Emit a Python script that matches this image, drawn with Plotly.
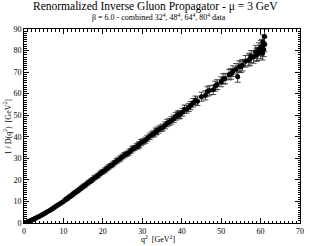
import plotly.graph_objects as go

q2 = [0.0, 0.1, 0.2, 0.3, 0.4, 0.5, 0.7, 0.9, 1.1, 1.3, 1.5, 1.8, 2.1, 2.4, 2.7, 3.0, 3.4, 3.8, 4.2, 4.6,
      5.0, 5.5, 6.0, 6.5, 7.0, 7.5, 8.0, 8.6, 9.2, 9.8, 10.4, 11.0, 11.7, 12.4, 13.1, 13.8, 14.6, 15.4, 16.2, 17.0,
      17.9, 18.8, 19.7, 20.6, 21.5, 22.5, 23.5, 24.5, 25.5, 26.5, 27.5, 28.6, 29.7, 30.8, 31.9, 33.0, 34.1, 35.2,
      36.3, 37.4, 38.5, 39.6, 40.7, 41.8, 42.9, 44.0, 45.0, 46.0, 47.0, 48.0, 49.0, 50.0, 51.0, 52.0, 53.0, 53.8,
      54.2, 54.6, 55.4, 56.2, 57.0, 57.6, 58.2, 58.8, 59.2, 59.6, 60.0, 60.3, 60.6, 60.8, 61.0,
      46.5, 48.5, 50.5, 52.5, 55.0, 57.3, 59.0, 60.1, 60.5, 61.0, 43.5, 39.0, 33.5, 29.0, 24.0,
      10.7, 11.35, 12.05, 12.75, 13.45, 14.2, 15.0, 15.8, 16.6, 17.45, 18.35, 19.25, 20.15, 21.05, 22.0, 23.0,
      25.0, 26.0, 27.0, 28.0, 29.2, 30.2, 31.3, 32.5, 33.6, 34.7, 35.8, 36.9, 38.0, 39.3, 40.2, 41.2, 42.3]
inv_prop = [0.0, 0.05, 0.1, 0.15, 0.2, 0.27, 0.4, 0.52, 0.66, 0.8, 0.95, 1.2, 1.45, 1.7, 2.0, 2.3, 2.65, 3.0, 3.4, 3.8,
            4.2, 4.75, 5.3, 5.85, 6.4, 7.0, 7.6, 8.3, 9.0, 9.75, 10.55, 11.4, 12.35, 13.3, 14.3, 15.2, 16.4, 17.4, 18.6, 19.6,
            21.0, 22.1, 23.5, 24.6, 26.0, 27.2, 28.8, 30.0, 31.5, 32.6, 34.3, 35.5, 37.3, 38.4, 40.2, 41.5, 43.3, 44.3,
            46.4, 47.6, 49.5, 50.4, 52.8, 53.6, 55.8, 56.5, 58.6, 59.2, 61.5, 61.8, 64.2, 65.5, 67.0, 68.8, 70.4, 71.5,
            67.9, 72.6, 73.2, 75.0, 75.6, 77.2, 77.0, 79.5, 78.4, 80.6, 79.3, 82.0, 84.0, 80.5, 86.5,
            61.0, 63.5, 66.8, 69.2, 72.5, 76.0, 78.0, 81.5, 78.8, 82.8, 56.9, 50.2, 42.6, 35.9, 29.4,
            11.0, 11.9, 12.8, 13.8, 14.7, 15.8, 16.9, 18.0, 19.1, 20.3, 21.5, 22.8, 24.0, 25.3, 26.6, 28.0,
            30.8, 32.0, 33.4, 34.8, 36.4, 37.8, 39.3, 41.0, 42.4, 43.9, 45.3, 46.9, 48.4, 50.0, 51.4, 52.8, 54.5]
errors = [0.1, 0.1, 0.1, 0.1, 0.1, 0.1, 0.1, 0.15, 0.15, 0.15, 0.2, 0.2, 0.2, 0.2, 0.25, 0.25, 0.25, 0.3, 0.3, 0.3,
          0.3, 0.35, 0.35, 0.4, 0.4, 0.4, 0.45, 0.45, 0.5, 0.5, 0.5, 0.6, 0.6, 0.6, 0.7, 0.7, 0.7, 0.8, 0.8, 0.8,
          0.9, 0.9, 1.0, 1.0, 1.0, 1.1, 1.1, 1.2, 1.2, 1.2, 1.3, 1.3, 1.4, 1.4, 1.5, 1.5, 1.6, 1.6,
          1.7, 1.7, 1.8, 1.8, 1.9, 1.9, 2.0, 2.0, 2.1, 2.1, 2.2, 2.2, 2.3, 2.3, 2.4, 2.4, 2.5, 2.5,
          2.6, 2.6, 2.7, 2.7, 2.8, 2.8, 2.9, 2.9, 3.0, 3.0, 3.1, 3.2, 3.3, 3.3, 3.5,
          2.2, 2.3, 2.4, 2.5, 2.7, 2.8, 3.0, 3.1, 3.2, 3.4, 2.0, 1.8, 1.5, 1.3, 1.1,
          0.5, 0.5, 0.6, 0.6, 0.6, 0.7, 0.7, 0.7, 0.8, 0.8, 0.8, 0.9, 0.9, 1.0, 1.0, 1.0,
          1.1, 1.1, 1.2, 1.2, 1.3, 1.3, 1.4, 1.4, 1.5, 1.5, 1.6, 1.6, 1.7, 1.7, 1.8, 1.8, 1.9]

title_text = "Renormalized Inverse Gluon Propagator - \u03bc = 3 GeV"
subtitle_text = "\u03b2 = 6.0 - combined 32<sup>4</sup>, 48<sup>4</sup>, 64<sup>4</sup>, 80<sup>4</sup> data"
x_title = "q<sup>2</sup>  [GeV<sup>2</sup>]"
y_title = "1 / D(q<sup>2</sup>)  [GeV<sup>2</sup>]"

serif = "Times New Roman"

fig = go.Figure()
fig.add_trace(go.Scatter(
    x=q2, y=inv_prop, mode="markers",
    marker=dict(color="black", size=5, symbol="circle"),
    error_y=dict(type="data", array=errors, visible=True, color="#222222", thickness=0.8, width=3),
    showlegend=False,
))

axis_common = dict(
    showline=True, linecolor="black", linewidth=1, mirror="allticks",
    ticks="inside", ticklen=5, tickwidth=1, tickcolor="black",
    showgrid=False, zeroline=False,
    tickfont=dict(family=serif, size=8, color="black"),
)

fig.update_layout(
    width=310, height=246,
    margin=dict(l=24, r=6, t=29, b=23),
    paper_bgcolor="white", plot_bgcolor="white",
    font=dict(family=serif, color="black"),
    xaxis=dict(range=[0, 70], dtick=10, tick0=0,
               minor=dict(dtick=1, ticks="inside", ticklen=2.5, tickcolor="black", tickwidth=1),
               **axis_common),
    yaxis=dict(range=[0, 90], dtick=10, tick0=0,
               minor=dict(dtick=1, ticks="inside", ticklen=2.5, tickcolor="black", tickwidth=1),
               **axis_common),
    annotations=[
        dict(text=title_text, xref="paper", yref="paper", x=0.475, y=1.118, xanchor="center", yanchor="middle",
             showarrow=False, font=dict(family=serif, size=11.5, color="black")),
        dict(text=subtitle_text, xref="paper", yref="paper", x=0.49, y=1.062, xanchor="center", yanchor="middle",
             showarrow=False, font=dict(family=serif, size=8, color="black")),
        dict(text=x_title, xref="paper", yref="paper", x=0.485, y=-0.085, xanchor="center", yanchor="middle",
             showarrow=False, font=dict(family=serif, size=8, color="black")),
        dict(text=y_title, xref="paper", yref="paper", x=-0.06, y=0.5, xanchor="center", yanchor="middle",
             textangle=-90, showarrow=False, font=dict(family=serif, size=8, color="black")),
    ],
)

fig.write_html("out.html", config={"displayModeBar": False},
               post_script="document.body.style.margin='0';document.body.style.padding='0';")
